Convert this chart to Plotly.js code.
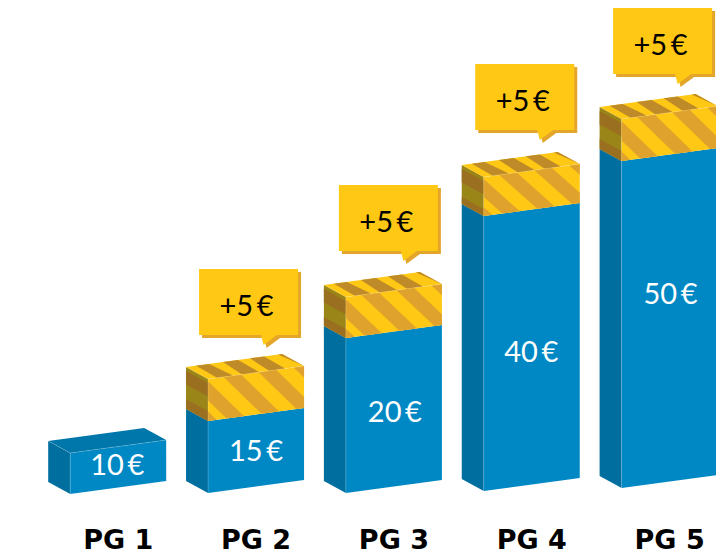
<!DOCTYPE html>
<html><head><meta charset="utf-8">
<script src="https://cdn.plot.ly/plotly-3.0.1.min.js"></script>
<style>html,body{margin:0;padding:0;background:#fff}#c{width:716px;height:556px}</style>
</head><body><div id="c"></div>
<script>
// ---- data ----
const categories = ["PG 1","PG 2","PG 3","PG 4","PG 5"];
const prices = [10,15,20,40,50];          // label values, euro
const increments = [null,5,5,5,5];        // label values of the add-on box, euro
const barHeights = [41,72,155,275,327];   // drawn height of the blue block (axis units)
const boxHeights = [0,42,41,39,42];       // drawn height of the striped add-on block (axis units)

// ---- geometry / style ----
const W=716,H=556,BOTTOM=35,FLOOR=27;
const STEP=137.85,X0=70.2,WIDTH=96,SLOPE=13,DX=22,DY=12;
const LIFT=[0,1,1,3,6];
const CALL_DX=[0,-9,-7,-8.5,-8.5], CALL_GAP=[0,44,46,47,45];
const C={blue:"#0088C4",blueSide:"#006F9F",blueTop:"#0077AA",yel:"#FFC814",dark:"#DFA32D",
         topDark:"#BF8A28",brown:"#9B6F20",olive:"#9A8518",shadow:"#E3A62B",edge:"rgba(255,255,255,0.25)"};
const cx=i=>X0+STEP*i;
const P=(i,u,d,h)=>[cx(i)+u-DX*d, h+LIFT[i]+SLOPE*u/WIDTH+DY*d];
const traces=[];
function poly(pts,color){
  traces.push({type:"scatter",mode:"lines",x:pts.map(p=>p[0]).concat(pts[0][0]),y:pts.map(p=>p[1]).concat(pts[0][1]),
    fill:"toself",fillcolor:color,line:{width:0,color:color},hoverinfo:"skip",showlegend:false});
}
function edge(pts,color){
  traces.push({type:"scatter",mode:"lines",x:pts.map(p=>p[0]),y:pts.map(p=>p[1]),
    line:{width:0.7,color:color||C.edge},hoverinfo:"skip",showlegend:false});
}
function clipU(pts,umin,umax){
  function half(list,inside,cross){const out=[];for(let k=0;k<list.length;k++){const a=list[k],b=list[(k+1)%list.length];
    const ia=inside(a),ib=inside(b);if(ia)out.push(a);if(ia!==ib)out.push(cross(a,b));}return out;}
  const at=lim=>(a,b)=>{const t=(lim-a[0])/(b[0]-a[0]);return [lim,a[1]+t*(b[1]-a[1])];};
  let r=half(pts,p=>p[0]>=umin,at(umin));
  if(r.length)r=half(r,p=>p[0]<=umax,at(umax));
  return r;
}
const FRONT_T=[-47,-19.5,15.5,50.5,85.5],FRONT_W=17.5,FRONT_S=38;
const TOP_ST=[[10,23,9,25],[37,52,34,51],[64,78,61,77],[92,96,96,96]];
const SIDE_BANDS=[[4,17.5],[32,99]];

categories.forEach((c,i)=>{
  const h=barHeights[i],b=boxHeights[i],t=h+b;
  poly([P(i,0,0,0),P(i,0,1,0),P(i,0,1,h),P(i,0,0,h)],C.blueSide);
  poly([P(i,0,0,0),P(i,WIDTH,0,0),P(i,WIDTH,0,h),P(i,0,0,h)],C.blue);
  if(b===0){
    poly([P(i,0,0,h),P(i,WIDTH,0,h),P(i,WIDTH,1,h),P(i,0,1,h)],C.blueTop);
    edge([P(i,0,0,0),P(i,0,0,h),P(i,WIDTH,0,h)]);
    edge([P(i,0,0,h),P(i,0,1,h)]);
    return;
  }
  // striped add-on: left side
  poly([P(i,0,0,h),P(i,0,1,h),P(i,0,1,t),P(i,0,0,t)],C.olive);
  SIDE_BANDS.forEach(s=>{const v0=s[0],v1=Math.min(s[1],b);
    poly([P(i,0,0,t-v0),P(i,0,1,t-v0),P(i,0,1,t-v1),P(i,0,0,t-v1)],C.brown);});
  // front
  poly([P(i,0,0,h),P(i,WIDTH,0,h),P(i,WIDTH,0,t),P(i,0,0,t)],C.yel);
  FRONT_T.forEach(tt=>{
    const r=clipU([[tt,0],[tt+FRONT_W,0],[tt+FRONT_W+FRONT_S,b],[tt+FRONT_S,b]],0,WIDTH);
    if(r.length>2)poly(r.map(p=>P(i,p[0],0,t-p[1])),C.dark);
  });
  // top
  poly([P(i,0,0,t),P(i,WIDTH,0,t),P(i,WIDTH,1,t),P(i,0,1,t)],C.yel);
  TOP_ST.forEach(s=>poly([P(i,s[0],1,t),P(i,s[1],1,t),P(i,s[3],0,t),P(i,s[2],0,t)],C.topDark));
  edge([P(i,0,0,0),P(i,0,0,t),P(i,WIDTH,0,t)]);
  // callout
  const lx=cx(i)+CALL_DX[i], by=t+LIFT[i]+CALL_GAP[i];
  const bubble=(ox,oy)=>[[lx+ox,by+oy],[lx+62+ox,by+oy],[lx+64.5+ox,by-10+oy],[lx+78+ox,by+oy],[lx+99+ox,by+oy],[lx+99+ox,by+66+oy],[lx+ox,by+66+oy]];
  poly(bubble(3,-3),C.shadow);
  poly(bubble(0,0),C.yel);
});

const VAL_Y=[26,40,79,139,197];
const valueText={type:"scatter",mode:"text",x:categories.map((c,i)=>cx(i)+[47,48,49,47.5,49][i]),
  y:categories.map((c,i)=>VAL_Y[i]),text:prices.map(v=>v+"\u2009€"),textposition:"middle center",
  textfont:{family:"Lato",size:29,color:"#fff"},hoverinfo:"skip",showlegend:false};
const incIdx=[1,2,3,4];
const incText={type:"scatter",mode:"text",x:incIdx.map(i=>cx(i)+CALL_DX[i]+47.5),
  y:incIdx.map(i=>barHeights[i]+boxHeights[i]+LIFT[i]+CALL_GAP[i]+26),
  text:incIdx.map(i=>"+"+increments[i]+"\u2009€"),textposition:"middle center",
  textfont:{family:"Lato",size:29,color:"#000"},hoverinfo:"skip",showlegend:false};
traces.push(valueText,incText);

Plotly.newPlot("c",traces,{
  width:W,height:H,margin:{l:0,r:0,t:0,b:BOTTOM,pad:0},paper_bgcolor:"#fff",plot_bgcolor:"#fff",showlegend:false,
  xaxis:{range:[0,W],showgrid:false,zeroline:false,showline:false,ticks:"",tickmode:"array",
    tickvals:categories.map((c,i)=>cx(i)+48),ticktext:categories,
    tickfont:{family:"DejaVu Sans",size:27,color:"#000",weight:700},fixedrange:true},
  yaxis:{range:[-FLOOR,H-BOTTOM-FLOOR],visible:false,fixedrange:true}
},{displayModeBar:false,staticPlot:true});
</script></body></html>
